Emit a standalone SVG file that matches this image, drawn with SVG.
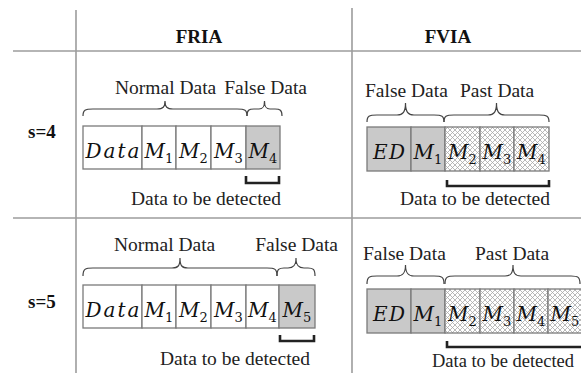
<svg xmlns="http://www.w3.org/2000/svg" width="581" height="373" viewBox="0 0 581 373">
<style>
.grid{stroke:#9c9c9c;stroke-width:1.6;fill:none}
.cell{stroke:#7a7a7a;stroke-width:1.3;fill:#fff}
.cell.g{fill:#c9c9c9}
.cell.h{fill:url(#hatch)}
.lbl{font-family:"Liberation Serif",serif;font-size:19.5px;fill:#222}
.hdr{font-family:"Liberation Serif",serif;font-size:19px;font-weight:bold;fill:#111}
.m{font-family:"DejaVu Serif",serif;font-size:20px;font-style:italic;fill:#111;text-anchor:middle}
.sub{font-style:normal;font-size:13px}
.brace{stroke:#444;stroke-width:1.2;fill:none}
.bracket{stroke:#222;stroke-width:2.6;fill:none}
</style>
<defs>
<pattern id="hatch" patternUnits="userSpaceOnUse" width="5" height="5">
<rect width="5" height="5" fill="#fff"/>
<path d="M0 0L5 5M5 0L0 5" stroke="#a8a8a8" stroke-width="0.8"/>
</pattern>
</defs>
<rect width="581" height="373" fill="#fff"/>
<g id="table">
<line class="grid" x1="76" y1="10" x2="76" y2="373"/>
<line class="grid" x1="352" y1="8" x2="352" y2="373"/>
<line class="grid" x1="13" y1="51" x2="581" y2="51"/>
<line class="grid" x1="13" y1="218" x2="581" y2="218"/>
<text class="hdr" x="199" y="43" text-anchor="middle">FRIA</text>
<text class="hdr" x="448" y="43" text-anchor="middle">FVIA</text>
<text class="hdr" x="28" y="138">s=4</text>
<text class="hdr" x="28" y="308">s=5</text>
</g>
<g id="fria-s4">
<rect class="cell" x="83" y="126" width="59" height="43"/>
<rect class="cell" x="142" y="126" width="34" height="43"/>
<rect class="cell" x="176" y="126" width="35" height="43"/>
<rect class="cell" x="211" y="126" width="35" height="43"/>
<rect class="cell g" x="246" y="126" width="34" height="43"/>
<text class="m" x="112.5" y="158" textLength="54" lengthAdjust="spacing">Data</text>
<text class="m" x="159" y="158">M<tspan class="sub" dy="5">1</tspan></text>
<text class="m" x="193.5" y="158">M<tspan class="sub" dy="5">2</tspan></text>
<text class="m" x="228.5" y="158">M<tspan class="sub" dy="5">3</tspan></text>
<text class="m" x="263" y="158">M<tspan class="sub" dy="5">4</tspan></text>
<text class="lbl" x="115" y="94">Normal Data</text>
<text class="lbl" x="307" y="94" text-anchor="end">False Data</text>
<text class="lbl" x="206" y="205" text-anchor="middle">Data to be detected</text>
</g>
<g id="fvia-s4">
<rect class="cell g" x="367" y="127" width="44" height="44"/>
<rect class="cell g" x="411" y="127" width="34" height="44"/>
<rect class="cell h" x="445" y="127" width="35" height="44"/>
<rect class="cell h" x="480" y="127" width="34" height="44"/>
<rect class="cell h" x="514" y="127" width="35" height="44"/>
<text class="m" x="389" y="159" textLength="32" lengthAdjust="spacing">ED</text>
<text class="m" x="428" y="159">M<tspan class="sub" dy="5">1</tspan></text>
<text class="m" x="462.5" y="159">M<tspan class="sub" dy="5">2</tspan></text>
<text class="m" x="497" y="159">M<tspan class="sub" dy="5">3</tspan></text>
<text class="m" x="531.5" y="159">M<tspan class="sub" dy="5">4</tspan></text>
<text class="lbl" x="365" y="97">False Data</text>
<text class="lbl" x="460" y="97">Past Data</text>
<text class="lbl" x="475" y="205" text-anchor="middle">Data to be detected</text>
</g>
<g id="fria-s5">
<rect class="cell" x="83" y="285" width="59" height="43"/>
<rect class="cell" x="142" y="285" width="34" height="43"/>
<rect class="cell" x="176" y="285" width="35" height="43"/>
<rect class="cell" x="211" y="285" width="35" height="43"/>
<rect class="cell" x="246" y="285" width="33" height="43"/>
<rect class="cell g" x="279" y="285" width="36" height="43"/>
<text class="m" x="112.5" y="317" textLength="54" lengthAdjust="spacing">Data</text>
<text class="m" x="159" y="317">M<tspan class="sub" dy="5">1</tspan></text>
<text class="m" x="193.5" y="317">M<tspan class="sub" dy="5">2</tspan></text>
<text class="m" x="228.5" y="317">M<tspan class="sub" dy="5">3</tspan></text>
<text class="m" x="262.5" y="317">M<tspan class="sub" dy="5">4</tspan></text>
<text class="m" x="297" y="317">M<tspan class="sub" dy="5">5</tspan></text>
<text class="lbl" x="114" y="251">Normal Data</text>
<text class="lbl" x="338" y="251" text-anchor="end">False Data</text>
<text class="lbl" x="160" y="365">Data to be detected</text>
</g>
<g id="fvia-s5">
<rect class="cell g" x="367" y="289" width="44" height="44"/>
<rect class="cell g" x="411" y="289" width="34" height="44"/>
<rect class="cell h" x="445" y="289" width="35" height="44"/>
<rect class="cell h" x="480" y="289" width="34" height="44"/>
<rect class="cell h" x="514" y="289" width="34" height="44"/>
<rect class="cell h" x="548" y="289" width="35" height="44"/>
<text class="m" x="389" y="321" textLength="32" lengthAdjust="spacing">ED</text>
<text class="m" x="428" y="321">M<tspan class="sub" dy="5">1</tspan></text>
<text class="m" x="462.5" y="321">M<tspan class="sub" dy="5">2</tspan></text>
<text class="m" x="497" y="321">M<tspan class="sub" dy="5">3</tspan></text>
<text class="m" x="531" y="321">M<tspan class="sub" dy="5">4</tspan></text>
<text class="m" x="565" y="321">M<tspan class="sub" dy="5">5</tspan></text>
<text class="lbl" x="363" y="260">False Data</text>
<text class="lbl" x="475" y="260">Past Data</text>
<text class="lbl" x="432" y="367" textLength="142" lengthAdjust="spacingAndGlyphs">Data to be detected</text>
</g>
<g id="connectors">
<path class="brace" d="M83 116C83 110 85 109 93 109L157 109C163 109 165 107 165 101C165 107 167 109 173 109L237 109C245 109 247 110 247 116"/>
<path class="brace" d="M247 116C247 110 249 109 254 109L259 109C263 109 264.5 107 264.5 101C264.5 107 266 109 270 109L275 109C280 109 282 110 282 116"/>
<path class="brace" d="M367 122C367 116 369 115 377 115L397 115C403 115 405.5 112 405.5 103C405.5 112 408 115 414 115L434 115C442 115 444 116 444 122"/>
<path class="brace" d="M444 122C444 116 446 115 454 115L488 115C494 115 496.5 112 496.5 103C496.5 112 499 115 505 115L539 115C547 115 549 116 549 122"/>
<path class="brace" d="M83 276C83 269 85 268 93 268L172 268C178 268 180 266 180 258C180 266 182 268 188 268L267 268C275 268 277 269 277 276"/>
<path class="brace" d="M277 276C277 269 279 268 284 268L288 268C293 268 296 266 296 258C296 266 299 268 304 268L308 268C313 268 315 269 315 276"/>
<path class="brace" d="M367 284C367 277 369 276 377 276L397 276C403 276 405.5 273 405.5 265C405.5 273 408 276 414 276L434 276C442 276 444 277 444 284"/>
<path class="brace" d="M445 284C445 277 447 276 455 276L505 276C511 276 513 273 513 265C513 273 515 276 521 276L571 276C578 276 580 277 580 284"/>
<path class="bracket" d="M246 176V183H279V176"/>
<path class="bracket" d="M447 180V186H549V180"/>
<path class="bracket" d="M280 335V341H314V335"/>
<path class="bracket" d="M447 341V347H590"/>
</g>
</svg>
